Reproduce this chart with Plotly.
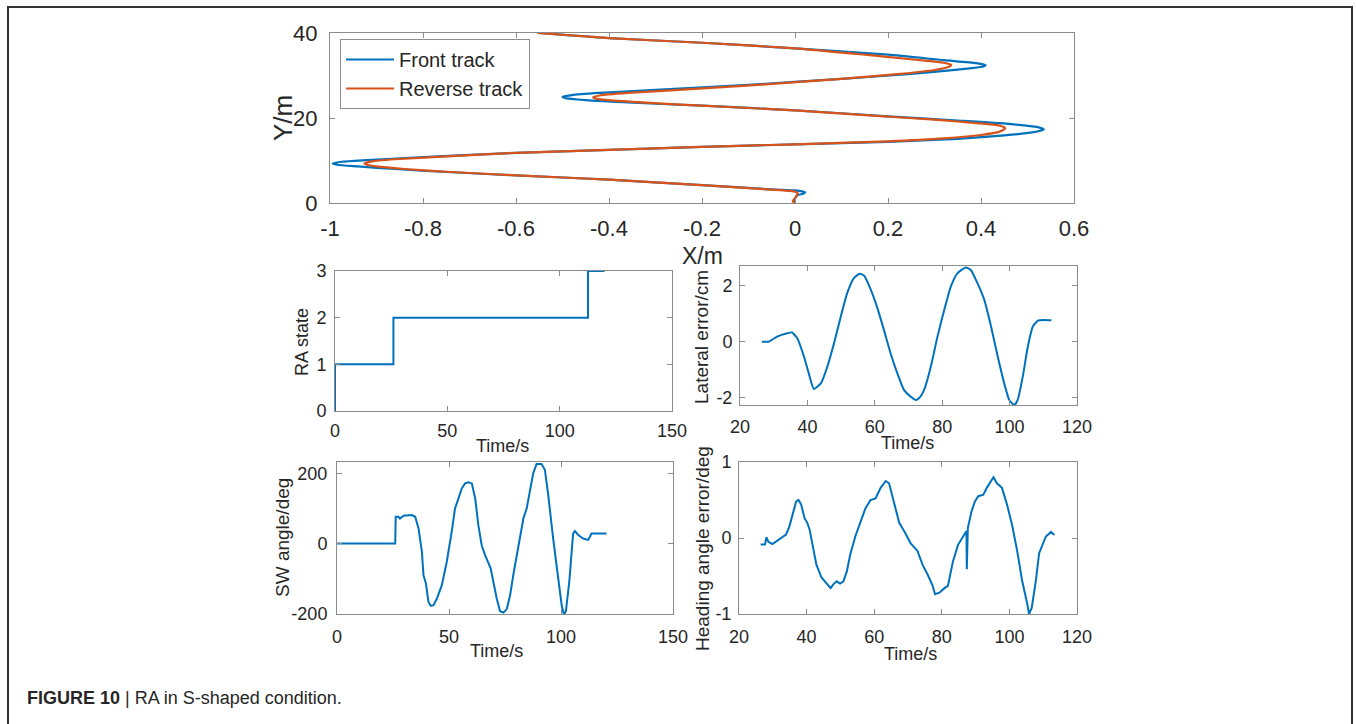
import plotly.graph_objects as go

W, H = 1356, 724

# ---------------- data ----------------
front_x = [0, 0.0, 0.005, 0.018, 0.022, 0.015, 0.0, -0.05, -0.2, -0.4, -0.6, -0.75, -0.86, -0.94, -0.985, -0.994, -0.975, -0.92, -0.8, -0.6, -0.4, -0.2, 0.0, 0.2, 0.35, 0.45, 0.51, 0.535, 0.52, 0.46, 0.35, 0.2, 0.0, -0.2, -0.35, -0.45, -0.495, -0.5, -0.48, -0.42, -0.3, -0.1, 0.1, 0.25, 0.35, 0.4, 0.41, 0.39, 0.32, 0.2, 0.0, -0.2, -0.4, -0.55]
front_y = [0, 1.0, 1.8, 2.2, 2.5, 2.75, 2.95, 3.2, 4.2, 5.5, 6.5, 7.3, 8.0, 8.6, 9.0, 9.3, 9.7, 10.1, 10.8, 11.8, 12.5, 13.2, 13.8, 14.4, 15.1, 15.9, 16.6, 17.3, 17.9, 18.6, 19.4, 20.4, 21.8, 22.9, 23.6, 24.2, 24.7, 25.0, 25.4, 25.9, 26.6, 27.8, 29.2, 30.4, 31.4, 32.0, 32.4, 32.9, 33.6, 34.9, 36.4, 37.7, 38.8, 40.0]

reverse_x = [0, -0.005, 0.0, 0.004, 0.006, 0.002, -0.01, -0.06, -0.2, -0.4, -0.6, -0.74, -0.84, -0.9, -0.92, -0.926, -0.91, -0.86, -0.76, -0.6, -0.4, -0.2, 0.0, 0.2, 0.32, 0.4, 0.44, 0.452, 0.44, 0.39, 0.3, 0.16, 0.0, -0.2, -0.32, -0.4, -0.43, -0.434, -0.42, -0.36, -0.25, -0.08, 0.1, 0.22, 0.3, 0.33, 0.336, 0.32, 0.26, 0.15, 0.0, -0.2, -0.4, -0.554]
reverse_y = [0, 0.4, 1.2, 1.8, 2.3, 2.6, 2.85, 3.2, 4.2, 5.5, 6.5, 7.3, 8.0, 8.6, 9.0, 9.3, 9.8, 10.3, 10.9, 11.8, 12.5, 13.2, 13.8, 14.5, 15.2, 16.0, 16.8, 17.6, 18.2, 18.8, 19.6, 20.6, 21.8, 22.9, 23.6, 24.2, 24.6, 24.9, 25.3, 25.9, 26.6, 27.8, 29.2, 30.3, 31.3, 32.0, 32.5, 33.0, 33.7, 34.9, 36.4, 37.7, 38.8, 40.0]

ra_t = [0, 0, 26, 112.6, 120]
ra_state = [0, 1, 2, 3, 3]

lat_t = [26.5, 28.5, 31, 34, 35.4, 37, 39, 40.4, 41.9, 44, 45.9, 47.9, 49.9, 51.8, 53.8, 55.5, 56.8, 58.8, 60.8, 62.7, 64.7, 66.7, 68.7, 70.6, 72.1, 73.1, 74.6, 76.6, 78.6, 80.6, 82.6, 84.5, 87, 88.5, 90.5, 92.5, 94.5, 96.5, 98.4, 99.9, 101.4, 102.4, 103.9, 105.4, 106.9, 108.4, 110.4, 112.4]
lat_err = [0.0, 0.0, 0.18, 0.3, 0.33, 0.12, -0.54, -1.13, -1.69, -1.49, -0.9, -0.06, 0.89, 1.73, 2.27, 2.42, 2.36, 1.86, 1.19, 0.42, -0.42, -1.13, -1.73, -1.96, -2.08, -2.02, -1.73, -0.9, 0.18, 1.13, 1.98, 2.44, 2.65, 2.56, 2.08, 1.49, 0.54, -0.54, -1.49, -2.08, -2.26, -2.08, -1.25, -0.18, 0.54, 0.75, 0.77, 0.76]

sw_t = [0, 26, 26.2, 27.4, 28.1, 29.7, 33.4, 34.9, 36.4, 37.9, 38.6, 39.7, 40.8, 41.9, 43.1, 44.6, 46.8, 49.0, 51.2, 52.7, 54.2, 55.7, 57.2, 58.7, 60.2, 61.7, 63.1, 64.6, 66.1, 68.6, 69.8, 71.3, 72.8, 74.3, 75.8, 77.3, 78.7, 80.9, 83.2, 84.7, 86.2, 87.6, 89.1, 91.3, 92.8, 94.3, 96.5, 98.8, 100.3, 101.3, 102.2, 103.7, 104.7, 105.4, 106.2, 107.7, 109.9, 112.1, 112.9, 113.6, 120.3]
sw_angle = [0, 0, 76, 76, 71, 79, 81, 76, 43, -24, -90, -114, -166, -178, -176, -157, -119, -52, 33, 100, 128, 157, 171, 174, 171, 128, 52, -5, -33, -71, -109, -157, -193, -197, -187, -147, -90, -14, 71, 100, 147, 200, 226, 226, 210, 138, 14, -109, -176, -202, -193, -109, -14, 28, 35, 24, 14, 10, 19, 28, 28]

head_t = [26.4, 27.7, 28.1, 28.7, 29.9, 31.4, 32.9, 33.9, 34.9, 35.9, 36.9, 37.6, 38.4, 39.4, 40.2, 40.9, 41.9, 42.9, 44.4, 45.9, 47.1, 47.9, 48.9, 49.9, 50.9, 51.9, 52.9, 54.4, 55.9, 57.4, 58.9, 60.4, 61.9, 63.4, 64.4, 65.9, 67.4, 68.9, 70.8, 72.8, 74.3, 75.8, 77.3, 78.0, 79.3, 80.8, 81.8, 83.3, 84.8, 86.3, 87.3, 87.4, 87.5, 87.7, 88.8, 89.8, 90.8, 92.3, 93.3, 94.3, 95.3, 96.3, 97.8, 99.3, 100.8, 102.3, 103.8, 105.3, 105.8, 106.6, 107.8, 108.8, 109.8, 110.8, 112.3, 113.3]
head_err = [-0.087, -0.087, 0.01, -0.05, -0.08, -0.035, 0.02, 0.044, 0.15, 0.33, 0.48, 0.5, 0.44, 0.26, 0.2, 0.11, -0.13, -0.35, -0.52, -0.59, -0.66, -0.61, -0.57, -0.6, -0.57, -0.44, -0.22, 0.02, 0.22, 0.39, 0.5, 0.52, 0.66, 0.75, 0.72, 0.44, 0.2, 0.09, -0.07, -0.17, -0.35, -0.48, -0.63, -0.74, -0.72, -0.66, -0.63, -0.31, -0.09, 0.02, 0.09, -0.41, 0.1, 0.13, 0.35, 0.48, 0.55, 0.57, 0.66, 0.74, 0.8, 0.72, 0.66, 0.44, 0.17, -0.17, -0.57, -0.87, -1.0, -0.92, -0.57, -0.2, -0.08, 0.02, 0.08, 0.04]

top_xticks = [-1, -0.8, -0.6, -0.4, -0.2, 0, 0.2, 0.4, 0.6]
top_xlabels = ["-1", "-0.8", "-0.6", "-0.4", "-0.2", "0", "0.2", "0.4", "0.6"]
top_yticks = [0, 20, 40]
ra_xticks = [0, 50, 100, 150]
ra_yticks = [0, 1, 2, 3]
lat_xticks = [20, 40, 60, 80, 100, 120]
lat_yticks = [-2, 0, 2]
lat_ylabels = ["-2", "0", "2"]
sw_yticks = [-200, 0, 200]
sw_ylabels = ["-200", "0", "200"]
head_yticks = [-1, 0, 1]
head_ylabels = ["-1", "0", "1"]

BLUE = "#0072BD"
ORANGE = "#D95319"
FONT = "Arial, Liberation Sans, sans-serif"
AXC = "#8c8c8c"
TXT = "#262626"


def px_x(p):
    return p / W


def px_y(p):
    return 1 - p / H


fig = go.Figure()

fig.add_trace(go.Scatter(x=front_x, y=front_y, mode="lines", name="Front track",
                         line=dict(color=BLUE, width=2.2, shape="spline", smoothing=0.6),
                         xaxis="x", yaxis="y"))
fig.add_trace(go.Scatter(x=reverse_x, y=reverse_y, mode="lines", name="Reverse track",
                         line=dict(color=ORANGE, width=2.2, shape="spline", smoothing=0.6),
                         xaxis="x", yaxis="y"))
fig.add_trace(go.Scatter(x=ra_t, y=ra_state, mode="lines", showlegend=False,
                         line=dict(color=BLUE, width=2, shape="hv"), xaxis="x2", yaxis="y2"))
fig.add_trace(go.Scatter(x=lat_t, y=lat_err, mode="lines", showlegend=False,
                         line=dict(color=BLUE, width=2, shape="spline", smoothing=0.5),
                         xaxis="x3", yaxis="y3"))
fig.add_trace(go.Scatter(x=sw_t, y=sw_angle, mode="lines", showlegend=False,
                         line=dict(color=BLUE, width=2), xaxis="x4", yaxis="y4"))
fig.add_trace(go.Scatter(x=head_t, y=head_err, mode="lines", showlegend=False,
                         line=dict(color=BLUE, width=2), xaxis="x5", yaxis="y5"))


def axis(dom, rng, tickvals, ticktext, size, anchor, standoff):
    return dict(domain=dom, range=rng, tickvals=tickvals, ticktext=ticktext,
                ticks="inside", ticklen=5, tickcolor=AXC, tickwidth=1,
                showline=True, linecolor=AXC, linewidth=1, mirror="ticks",
                showgrid=False, zeroline=False, anchor=anchor, automargin=False,
                tickfont=dict(family=FONT, size=size, color=TXT),
                ticklabelstandoff=standoff, fixedrange=True)


def dom_x(a, b):
    return [px_x(a), px_x(b)]


def dom_y(top, bottom):
    return [px_y(bottom), px_y(top)]


layout = dict(
    width=W, height=H,
    margin=dict(l=0, r=0, t=0, b=0, pad=0, autoexpand=False),
    paper_bgcolor="white", plot_bgcolor="white",
    showlegend=True,
    legend=dict(x=px_x(340), y=px_y(39), xanchor="left", yanchor="top",
                bgcolor="white", bordercolor=AXC, borderwidth=1, itemwidth=48,
                font=dict(family=FONT, size=20, color=TXT), tracegroupgap=0),
)

layout["xaxis"] = axis(dom_x(330, 1074), [-1, 0.6], top_xticks, top_xlabels, 22, "y", 6)
layout["yaxis"] = axis(dom_y(33, 203), [0, 40], top_yticks, [str(v) for v in top_yticks], 22, "x", 7)
layout["xaxis2"] = axis(dom_x(335, 672), [0, 150], ra_xticks, [str(v) for v in ra_xticks], 18, "y2", 3)
layout["yaxis2"] = axis(dom_y(271, 411), [0, 3], ra_yticks, [str(v) for v in ra_yticks], 18, "x2", 4)
layout["xaxis3"] = axis(dom_x(740, 1077), [20, 120], lat_xticks, [str(v) for v in lat_xticks], 18, "y3", 5)
layout["yaxis3"] = axis(dom_y(266, 405), [-2.26, 2.7], lat_yticks, lat_ylabels, 18, "x3", 3)
layout["xaxis4"] = axis(dom_x(337, 673), [0, 150], ra_xticks, [str(v) for v in ra_xticks], 18, "y4", 6)
layout["yaxis4"] = axis(dom_y(462, 614), [-201, 232], sw_yticks, sw_ylabels, 18, "x4", 5)
layout["xaxis5"] = axis(dom_x(739, 1077), [20, 120], lat_xticks, [str(v) for v in lat_xticks], 18, "y5", 6)
layout["yaxis5"] = axis(dom_y(462, 614), [-1, 1], head_yticks, head_ylabels, 18, "x5", 3)


def ann(text, x, y, size, angle=0, **kw):
    d = dict(text=text, x=px_x(x), y=px_y(y), xref="paper", yref="paper",
             showarrow=False, xanchor="center", yanchor="middle", textangle=angle,
             font=dict(family=FONT, size=size, color=TXT))
    d.update(kw)
    return d


annotations = [
    ann("X/m", 702, 256, 23),
    ann("Y/m", 283, 118, 26, -90),
    ann("Time/s", 502, 446, 18),
    ann("RA state", 302, 342, 18, -90),
    ann("Time/s", 907, 443, 18),
    ann("Lateral error/cm", 701, 337, 19, -90),
    ann("Time/s", 497, 651, 18),
    ann("SW angle/deg", 282, 538, 19, -90),
    ann("Time/s", 910, 654, 18),
    ann("Heading angle error/deg", 702, 549, 19, -90),
    ann("<b>FIGURE 10</b> | RA in S-shaped condition.", 25, 698, 18, 0, xanchor="left"),
]
layout["annotations"] = annotations

layout["shapes"] = [
    dict(type="rect", xref="paper", yref="paper", x0=px_x(8), x1=px_x(1352),
         y0=-0.1, y1=px_y(7), line=dict(color="#333333", width=2), fillcolor="rgba(0,0,0,0)",
         layer="below"),
]

fig.update_layout(**layout)
fig.write_html("out.html")
